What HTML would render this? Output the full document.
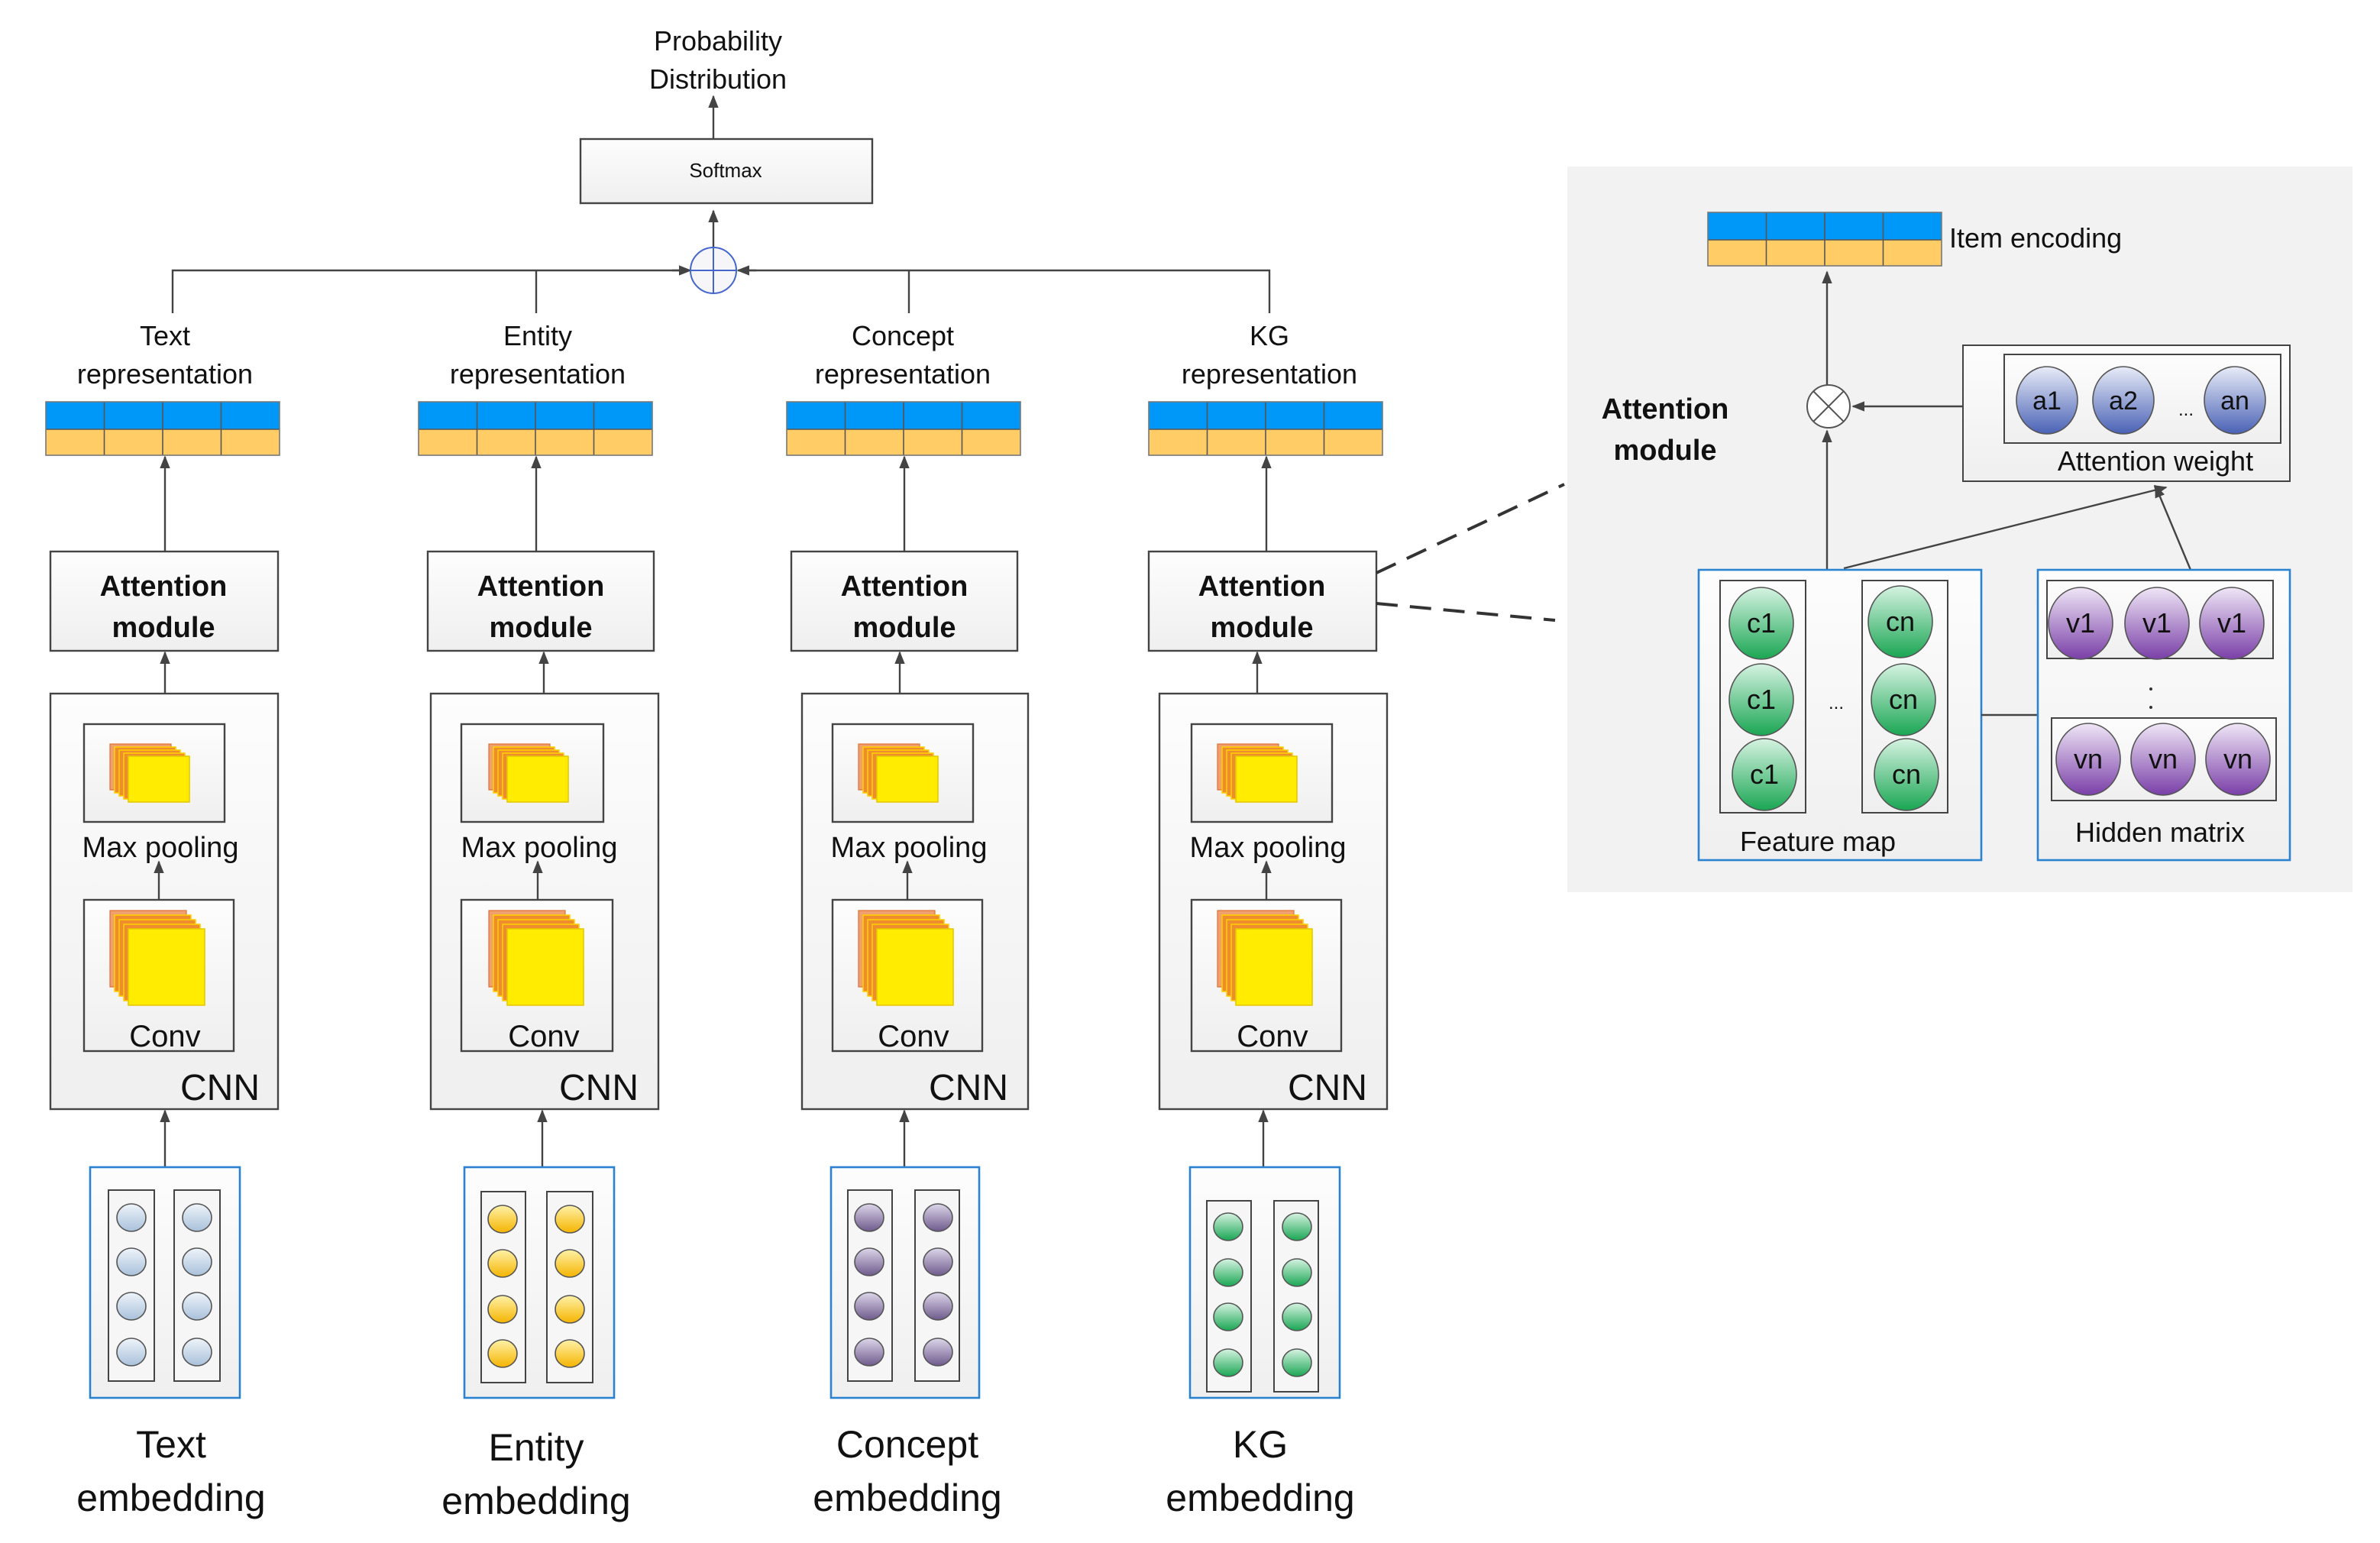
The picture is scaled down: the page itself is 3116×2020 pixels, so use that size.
<!DOCTYPE html>
<html><head><meta charset="utf-8"><style>html,body{margin:0;padding:0;background:#fff}svg{display:block}</style></head>
<body>
<svg width="3116" height="2020" viewBox="0 0 1558 1010" xmlns="http://www.w3.org/2000/svg" font-family="Liberation Sans, sans-serif" fill="#111">
<defs>
<marker id="ar" viewBox="0 0 10 10" refX="9" refY="5" markerWidth="7" markerHeight="7" orient="auto-start-reverse"><path d="M0,1 L10,5 L0,9 Z" fill="#444"/></marker>
<linearGradient id="box" x1="0" y1="0" x2="0" y2="1"><stop offset="0" stop-color="#fdfdfd"/><stop offset="1" stop-color="#efefef"/></linearGradient>
<linearGradient id="gb" x1="0" y1="0" x2="0" y2="1"><stop offset="0" stop-color="#eef4fa"/><stop offset="1" stop-color="#a9c1db"/></linearGradient>
<linearGradient id="gy" x1="0" y1="0" x2="0" y2="1"><stop offset="0" stop-color="#fff2a8"/><stop offset="1" stop-color="#f5b400"/></linearGradient>
<linearGradient id="gp" x1="0" y1="0" x2="0" y2="1"><stop offset="0" stop-color="#ddd6ea"/><stop offset="1" stop-color="#6e5a8c"/></linearGradient>
<linearGradient id="gg" x1="0" y1="0" x2="0" y2="1"><stop offset="0" stop-color="#d6f3e2"/><stop offset="1" stop-color="#1aa653"/></linearGradient>
<linearGradient id="gv" x1="0" y1="0" x2="0" y2="1"><stop offset="0" stop-color="#efe6f6"/><stop offset="1" stop-color="#7a3fa8"/></linearGradient>
<linearGradient id="ga" x1="0" y1="0" x2="0" y2="1"><stop offset="0" stop-color="#e8ecf8"/><stop offset="1" stop-color="#4a62b5"/></linearGradient>
<g id="bar">
<rect x="0" y="0" width="153" height="18" fill="#0098f8"/><rect x="0" y="18" width="153" height="17" fill="#ffcc66"/>
<path d="M38.25,0V35M76.5,0V35M114.75,0V35M0,18H153" stroke="#555" stroke-width="0.8"/>
<rect x="0" y="0" width="153" height="35" fill="none" stroke="#777" stroke-width="0.8"/>
</g>
<g id="mp">
<rect x="0" y="0" width="40" height="30" fill="#f0a070" stroke="#e07030" stroke-width="0.6"/>
<rect x="3" y="2" width="40" height="30" fill="#f08c30" stroke="#ffd000" stroke-width="0.8"/>
<rect x="6" y="4" width="40" height="30" fill="#f08c30" stroke="#ffd000" stroke-width="0.8"/>
<rect x="9" y="6" width="40" height="30" fill="#f08c30" stroke="#ffd000" stroke-width="0.8"/>
<rect x="12" y="8" width="40" height="30" fill="#ffec00" stroke="#e8c800" stroke-width="0.8"/>
</g>
<g id="cv">
<rect x="0" y="0" width="50" height="50" fill="#f0a070" stroke="#e07030" stroke-width="0.6"/>
<rect x="3" y="3" width="50" height="50" fill="#f08c30" stroke="#ffd000" stroke-width="0.8"/>
<rect x="6" y="6" width="50" height="50" fill="#f08c30" stroke="#ffd000" stroke-width="0.8"/>
<rect x="9" y="9" width="50" height="50" fill="#f08c30" stroke="#ffd000" stroke-width="0.8"/>
<rect x="12" y="12" width="50" height="50" fill="#ffec00" stroke="#e8c800" stroke-width="0.8"/>
</g>
</defs>

<text x="470" y="33" font-size="18" text-anchor="middle">Probability</text>
<text x="470" y="58" font-size="18" text-anchor="middle">Distribution</text>
<line x1="467" y1="91" x2="467" y2="63" stroke="#444" stroke-width="1.2" marker-end="url(#ar)"/>
<rect x="380" y="91" width="191" height="42" fill="url(#box)" stroke="#444" stroke-width="1.2"/>
<text x="475" y="116" font-size="13" text-anchor="middle">Softmax</text>
<line x1="467" y1="163" x2="467" y2="138" stroke="#444" stroke-width="1.2" marker-end="url(#ar)"/>
<path d="M113,205V177H450M485,177H831V205M351,177V205M595,177V205" fill="none" stroke="#444" stroke-width="1.2"/>
<line x1="440" y1="177" x2="452" y2="177" stroke="#444" stroke-width="1.2" marker-end="url(#ar)"/>
<line x1="495" y1="177" x2="483" y2="177" stroke="#444" stroke-width="1.2" marker-end="url(#ar)"/>
<circle cx="467" cy="177" r="15" fill="#f6f6f8" stroke="#4466cc" stroke-width="1"/>
<path d="M452,177H482M467,162V192" stroke="#4466cc" stroke-width="1"/>

<g>
<text x="108" y="226" font-size="18" text-anchor="middle">Text</text>
<text x="108" y="251" font-size="18" text-anchor="middle">representation</text>
<use href="#bar" x="30" y="263"/>
<line x1="108" y1="361" x2="108" y2="299" stroke="#444" stroke-width="1.2" marker-end="url(#ar)"/>
<rect x="33" y="361" width="149" height="65" fill="url(#box)" stroke="#444" stroke-width="1.2"/>
<text x="107" y="390" font-size="19" font-weight="bold" text-anchor="middle">Attention</text>
<text x="107" y="417" font-size="19" font-weight="bold" text-anchor="middle">module</text>
<line x1="108" y1="454" x2="108" y2="427" stroke="#444" stroke-width="1.2" marker-end="url(#ar)"/>
<rect x="33" y="454" width="149" height="272" fill="url(#box)" stroke="#444" stroke-width="1.2"/>
<rect x="55" y="474" width="92" height="64" fill="url(#box)" stroke="#444" stroke-width="1.2"/>
<use href="#mp" x="72" y="487"/>
<text x="105" y="561" font-size="19" text-anchor="middle">Max pooling</text>
<line x1="104" y1="589" x2="104" y2="564" stroke="#444" stroke-width="1.2" marker-end="url(#ar)"/>
<rect x="55" y="589" width="98" height="99" fill="url(#box)" stroke="#444" stroke-width="1.2"/>
<use href="#cv" x="72" y="596"/>
<text x="108" y="685" font-size="20" text-anchor="middle">Conv</text>
<text x="170" y="720" font-size="24" text-anchor="end">CNN</text>
<line x1="108" y1="764" x2="108" y2="727" stroke="#444" stroke-width="1.2" marker-end="url(#ar)"/>
<rect x="59" y="764" width="98" height="151" fill="url(#box)" stroke="#2a82d0" stroke-width="1.3"/>
<rect x="71" y="779" width="30" height="125" fill="#f6f6f6" stroke="#444" stroke-width="1"/>
<rect x="114" y="779" width="30" height="125" fill="#f6f6f6" stroke="#444" stroke-width="1"/>
<g fill="url(#gb)" stroke="#555" stroke-width="0.8">
<ellipse cx="86" cy="797" rx="9.5" ry="9"/><ellipse cx="86" cy="826" rx="9.5" ry="9"/><ellipse cx="86" cy="855" rx="9.5" ry="9"/><ellipse cx="86" cy="885" rx="9.5" ry="9"/>
<ellipse cx="129" cy="797" rx="9.5" ry="9"/><ellipse cx="129" cy="826" rx="9.5" ry="9"/><ellipse cx="129" cy="855" rx="9.5" ry="9"/><ellipse cx="129" cy="885" rx="9.5" ry="9"/>
</g>
<text x="112" y="954" font-size="25" text-anchor="middle">Text</text>
<text x="112" y="989" font-size="25" text-anchor="middle">embedding</text>
</g>

<g>
<text x="352" y="226" font-size="18" text-anchor="middle">Entity</text>
<text x="352" y="251" font-size="18" text-anchor="middle">representation</text>
<use href="#bar" x="274" y="263"/>
<line x1="351" y1="361" x2="351" y2="299" stroke="#444" stroke-width="1.2" marker-end="url(#ar)"/>
<rect x="280" y="361" width="148" height="65" fill="url(#box)" stroke="#444" stroke-width="1.2"/>
<text x="354" y="390" font-size="19" font-weight="bold" text-anchor="middle">Attention</text>
<text x="354" y="417" font-size="19" font-weight="bold" text-anchor="middle">module</text>
<line x1="356" y1="454" x2="356" y2="427" stroke="#444" stroke-width="1.2" marker-end="url(#ar)"/>
<rect x="282" y="454" width="149" height="272" fill="url(#box)" stroke="#444" stroke-width="1.2"/>
<rect x="302" y="474" width="93" height="64" fill="url(#box)" stroke="#444" stroke-width="1.2"/>
<use href="#mp" x="320" y="487"/>
<text x="353" y="561" font-size="19" text-anchor="middle">Max pooling</text>
<line x1="352" y1="589" x2="352" y2="564" stroke="#444" stroke-width="1.2" marker-end="url(#ar)"/>
<rect x="302" y="589" width="99" height="99" fill="url(#box)" stroke="#444" stroke-width="1.2"/>
<use href="#cv" x="320" y="596"/>
<text x="356" y="685" font-size="20" text-anchor="middle">Conv</text>
<text x="418" y="720" font-size="24" text-anchor="end">CNN</text>
<line x1="355" y1="764" x2="355" y2="727" stroke="#444" stroke-width="1.2" marker-end="url(#ar)"/>
<rect x="304" y="764" width="98" height="151" fill="url(#box)" stroke="#2a82d0" stroke-width="1.3"/>
<rect x="315" y="780" width="29" height="125" fill="#f6f6f6" stroke="#444" stroke-width="1"/>
<rect x="358" y="780" width="30" height="125" fill="#f6f6f6" stroke="#444" stroke-width="1"/>
<g fill="url(#gy)" stroke="#555" stroke-width="0.8">
<ellipse cx="329" cy="798" rx="9.5" ry="9"/><ellipse cx="329" cy="827" rx="9.5" ry="9"/><ellipse cx="329" cy="857" rx="9.5" ry="9"/><ellipse cx="329" cy="886" rx="9.5" ry="9"/>
<ellipse cx="373" cy="798" rx="9.5" ry="9"/><ellipse cx="373" cy="827" rx="9.5" ry="9"/><ellipse cx="373" cy="857" rx="9.5" ry="9"/><ellipse cx="373" cy="886" rx="9.5" ry="9"/>
</g>
<text x="351" y="956" font-size="25" text-anchor="middle">Entity</text>
<text x="351" y="991" font-size="25" text-anchor="middle">embedding</text>
</g>

<g>
<text x="591" y="226" font-size="18" text-anchor="middle">Concept</text>
<text x="591" y="251" font-size="18" text-anchor="middle">representation</text>
<use href="#bar" x="515" y="263"/>
<line x1="592" y1="361" x2="592" y2="299" stroke="#444" stroke-width="1.2" marker-end="url(#ar)"/>
<rect x="518" y="361" width="148" height="65" fill="url(#box)" stroke="#444" stroke-width="1.2"/>
<text x="592" y="390" font-size="19" font-weight="bold" text-anchor="middle">Attention</text>
<text x="592" y="417" font-size="19" font-weight="bold" text-anchor="middle">module</text>
<line x1="589" y1="454" x2="589" y2="427" stroke="#444" stroke-width="1.2" marker-end="url(#ar)"/>
<rect x="525" y="454" width="148" height="272" fill="url(#box)" stroke="#444" stroke-width="1.2"/>
<rect x="545" y="474" width="92" height="64" fill="url(#box)" stroke="#444" stroke-width="1.2"/>
<use href="#mp" x="562" y="487"/>
<text x="595" y="561" font-size="19" text-anchor="middle">Max pooling</text>
<line x1="594" y1="589" x2="594" y2="564" stroke="#444" stroke-width="1.2" marker-end="url(#ar)"/>
<rect x="545" y="589" width="98" height="99" fill="url(#box)" stroke="#444" stroke-width="1.2"/>
<use href="#cv" x="562" y="596"/>
<text x="598" y="685" font-size="20" text-anchor="middle">Conv</text>
<text x="660" y="720" font-size="24" text-anchor="end">CNN</text>
<line x1="592" y1="764" x2="592" y2="727" stroke="#444" stroke-width="1.2" marker-end="url(#ar)"/>
<rect x="544" y="764" width="97" height="151" fill="url(#box)" stroke="#2a82d0" stroke-width="1.3"/>
<rect x="555" y="779" width="29" height="125" fill="#f6f6f6" stroke="#444" stroke-width="1"/>
<rect x="599" y="779" width="29" height="125" fill="#f6f6f6" stroke="#444" stroke-width="1"/>
<g fill="url(#gp)" stroke="#555" stroke-width="0.8">
<ellipse cx="569" cy="797" rx="9.5" ry="9"/><ellipse cx="569" cy="826" rx="9.5" ry="9"/><ellipse cx="569" cy="855" rx="9.5" ry="9"/><ellipse cx="569" cy="885" rx="9.5" ry="9"/>
<ellipse cx="614" cy="797" rx="9.5" ry="9"/><ellipse cx="614" cy="826" rx="9.5" ry="9"/><ellipse cx="614" cy="855" rx="9.5" ry="9"/><ellipse cx="614" cy="885" rx="9.5" ry="9"/>
</g>
<text x="594" y="954" font-size="25" text-anchor="middle">Concept</text>
<text x="594" y="989" font-size="25" text-anchor="middle">embedding</text>
</g>

<g>
<text x="831" y="226" font-size="18" text-anchor="middle">KG</text>
<text x="831" y="251" font-size="18" text-anchor="middle">representation</text>
<use href="#bar" x="752" y="263"/>
<line x1="829" y1="361" x2="829" y2="299" stroke="#444" stroke-width="1.2" marker-end="url(#ar)"/>
<rect x="752" y="361" width="149" height="65" fill="url(#box)" stroke="#444" stroke-width="1.2"/>
<text x="826" y="390" font-size="19" font-weight="bold" text-anchor="middle">Attention</text>
<text x="826" y="417" font-size="19" font-weight="bold" text-anchor="middle">module</text>
<line x1="823" y1="454" x2="823" y2="427" stroke="#444" stroke-width="1.2" marker-end="url(#ar)"/>
<rect x="759" y="454" width="149" height="272" fill="url(#box)" stroke="#444" stroke-width="1.2"/>
<rect x="780" y="474" width="92" height="64" fill="url(#box)" stroke="#444" stroke-width="1.2"/>
<use href="#mp" x="797" y="487"/>
<text x="830" y="561" font-size="19" text-anchor="middle">Max pooling</text>
<line x1="829" y1="589" x2="829" y2="564" stroke="#444" stroke-width="1.2" marker-end="url(#ar)"/>
<rect x="780" y="589" width="98" height="99" fill="url(#box)" stroke="#444" stroke-width="1.2"/>
<use href="#cv" x="797" y="596"/>
<text x="833" y="685" font-size="20" text-anchor="middle">Conv</text>
<text x="895" y="720" font-size="24" text-anchor="end">CNN</text>
<line x1="827" y1="764" x2="827" y2="727" stroke="#444" stroke-width="1.2" marker-end="url(#ar)"/>
<rect x="779" y="764" width="98" height="151" fill="url(#box)" stroke="#2a82d0" stroke-width="1.3"/>
<rect x="790" y="786" width="29" height="125" fill="#f6f6f6" stroke="#444" stroke-width="1"/>
<rect x="834" y="786" width="29" height="125" fill="#f6f6f6" stroke="#444" stroke-width="1"/>
<g fill="url(#gg)" stroke="#555" stroke-width="0.8">
<ellipse cx="804" cy="803" rx="9.5" ry="9"/><ellipse cx="804" cy="833" rx="9.5" ry="9"/><ellipse cx="804" cy="862" rx="9.5" ry="9"/><ellipse cx="804" cy="892" rx="9.5" ry="9"/>
<ellipse cx="849" cy="803" rx="9.5" ry="9"/><ellipse cx="849" cy="833" rx="9.5" ry="9"/><ellipse cx="849" cy="862" rx="9.5" ry="9"/><ellipse cx="849" cy="892" rx="9.5" ry="9"/>
</g>
<text x="825" y="954" font-size="25" text-anchor="middle">KG</text>
<text x="825" y="989" font-size="25" text-anchor="middle">embedding</text>
</g>

<line x1="901" y1="375" x2="1024" y2="317" stroke="#333" stroke-width="2" stroke-dasharray="14,8"/>
<line x1="901" y1="395" x2="1018" y2="406" stroke="#333" stroke-width="2" stroke-dasharray="14,8"/>

<rect x="1026" y="109" width="514" height="475" fill="#f2f2f2"/>
<use href="#bar" x="1118" y="139"/>
<text x="1276" y="162" font-size="18">Item encoding</text>
<line x1="1196" y1="252" x2="1196" y2="178" stroke="#444" stroke-width="1.2" marker-end="url(#ar)"/>
<circle cx="1197" cy="266" r="14" fill="#fff" stroke="#555" stroke-width="1"/>
<path d="M1187,256L1207,276M1207,256L1187,276" stroke="#555" stroke-width="1"/>
<line x1="1285" y1="266" x2="1213" y2="266" stroke="#444" stroke-width="1.2" marker-end="url(#ar)"/>
<text x="1090" y="274" font-size="19" font-weight="bold" text-anchor="middle">Attention</text>
<text x="1090" y="301" font-size="19" font-weight="bold" text-anchor="middle">module</text>
<rect x="1285" y="226" width="214" height="89" fill="url(#box)" stroke="#444" stroke-width="1"/>
<rect x="1312" y="232" width="181" height="58" fill="url(#box)" stroke="#444" stroke-width="1"/>
<g fill="url(#ga)" stroke="#555" stroke-width="0.8">
<ellipse cx="1340" cy="262" rx="20" ry="22"/><ellipse cx="1390" cy="262" rx="20" ry="22"/><ellipse cx="1463" cy="262" rx="20" ry="22"/>
</g>
<g font-size="17" text-anchor="middle"><text x="1340" y="268">a1</text><text x="1390" y="268">a2</text><text x="1431" y="272" font-size="12">...</text><text x="1463" y="268">an</text></g>
<text x="1411" y="308" font-size="18" text-anchor="middle">Attention weight</text>
<line x1="1196" y1="373" x2="1196" y2="282" stroke="#444" stroke-width="1.2" marker-end="url(#ar)"/>
<line x1="1207" y1="372" x2="1418" y2="319" stroke="#444" stroke-width="1.2" marker-end="url(#ar)"/>
<line x1="1434" y1="373" x2="1411" y2="318" stroke="#444" stroke-width="1.2" marker-end="url(#ar)"/>

<rect x="1112" y="373" width="185" height="190" fill="url(#box)" stroke="#2a82d0" stroke-width="1.3"/>
<rect x="1126" y="380" width="56" height="152" fill="url(#box)" stroke="#444" stroke-width="1"/>
<rect x="1219" y="380" width="56" height="152" fill="url(#box)" stroke="#444" stroke-width="1"/>
<g fill="url(#gg)" stroke="#555" stroke-width="0.8">
<ellipse cx="1153" cy="408" rx="21" ry="23.5"/><ellipse cx="1153" cy="458" rx="21" ry="23.5"/><ellipse cx="1155" cy="507" rx="21" ry="23.5"/>
<ellipse cx="1244" cy="407" rx="21" ry="23.5"/><ellipse cx="1246" cy="458" rx="21" ry="23.5"/><ellipse cx="1248" cy="507" rx="21" ry="23.5"/>
</g>
<g font-size="18" text-anchor="middle"><text x="1153" y="414">c1</text><text x="1153" y="464">c1</text><text x="1155" y="513">c1</text>
<text x="1244" y="413">cn</text><text x="1246" y="464">cn</text><text x="1248" y="513">cn</text></g>
<text x="1202" y="464" font-size="12" text-anchor="middle">...</text>
<text x="1190" y="557" font-size="18" text-anchor="middle">Feature map</text>
<line x1="1297" y1="468" x2="1334" y2="468" stroke="#444" stroke-width="1.2"/>
<rect x="1334" y="373" width="165" height="190" fill="url(#box)" stroke="#2a82d0" stroke-width="1.3"/>
<rect x="1340" y="380" width="148" height="51" fill="url(#box)" stroke="#444" stroke-width="1"/>
<rect x="1343" y="470" width="147" height="54" fill="url(#box)" stroke="#444" stroke-width="1"/>
<g fill="url(#gv)" stroke="#555" stroke-width="0.8">
<ellipse cx="1362" cy="408" rx="21" ry="23.5"/><ellipse cx="1412" cy="408" rx="21" ry="23.5"/><ellipse cx="1461" cy="408" rx="21" ry="23.5"/>
<ellipse cx="1367" cy="497" rx="21" ry="23.5"/><ellipse cx="1416" cy="497" rx="21" ry="23.5"/><ellipse cx="1465" cy="497" rx="21" ry="23.5"/>
</g>
<g font-size="18" text-anchor="middle"><text x="1362" y="414">v1</text><text x="1412" y="414">v1</text><text x="1461" y="414">v1</text>
<text x="1367" y="503">vn</text><text x="1416" y="503">vn</text><text x="1465" y="503">vn</text></g>
<circle cx="1408" cy="451" r="1" fill="#333"/><circle cx="1408" cy="463" r="1" fill="#333"/>
<text x="1414" y="551" font-size="18" text-anchor="middle">Hidden matrix</text>
</svg>
</body></html>
